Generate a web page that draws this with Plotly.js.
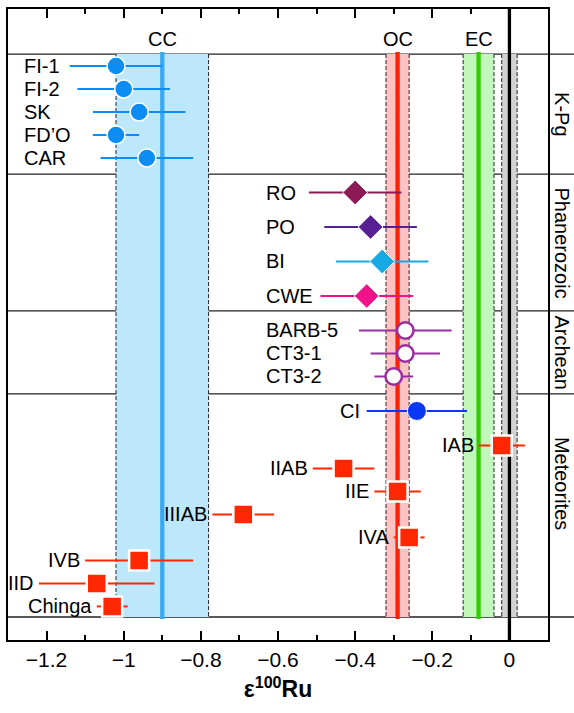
<!DOCTYPE html>
<html>
<head>
<meta charset="utf-8">
<script src="https://cdn.plot.ly/plotly-3.0.1.min.js"></script>
<style>html,body{margin:0;padding:0;background:#fff;}#chart{width:574px;height:713px;}</style>
</head>
<body>
<div id="chart"></div>
<script>
// ---------- data ----------
const kpgNames = ['FI-1', 'FI-2', 'SK', 'FD\u2019O', 'CAR'];
const kpgVals  = [-1.02, -1.00, -0.96, -1.02, -0.94];
const kpgErr   = [0.12, 0.12, 0.12, 0.06, 0.12];
const kpgRows  = [1, 2, 3, 4, 5];

const phanNames  = ['RO', 'PO', 'BI', 'CWE'];
const phanVals   = [-0.40, -0.36, -0.33, -0.37];
const phanErr    = [0.12, 0.12, 0.12, 0.12];
const phanRows   = [6.5, 8, 9.5, 11];
const phanColors = ['#8C1A57', '#561F93', '#16A9E4', '#EE138A'];

const archNames = ['BARB-5', 'CT3-1', 'CT3-2'];
const archVals  = [-0.27, -0.27, -0.30];
const archErr   = [0.12, 0.09, 0.05];
const archRows  = [12.5, 13.5, 14.5];

const ciNames = ['CI'];
const ciVals  = [-0.24];
const ciErr   = [0.13];
const ciRows  = [16];

const ironNames = ['IAB', 'IIAB', 'IIE', 'IIIAB', 'IVA', 'IVB', 'IID', 'Chinga'];
const ironVals  = [-0.02, -0.43, -0.29, -0.69, -0.26, -0.96, -1.07, -1.03];
const ironErr   = [0.06, 0.08, 0.06, 0.08, 0.04, 0.14, 0.15, 0.04];
const ironRows  = [17.5, 18.5, 19.5, 20.5, 21.5, 22.5, 23.5, 24.5];

const resNames = ['CC', 'OC', 'EC'];
const resVals  = [-0.90, -0.29, -0.08];
const resLow   = [-1.02, -0.32, -0.12];
const resHigh  = [-0.78, -0.26, -0.04];
const earthVal = 0, earthLow = -0.02, earthHigh = 0.02;

const groupNames  = ['K-Pg', 'Phanerozoic', 'Archean', 'Meteorites'];
const groupBounds = [0.48, 5.7, 11.65, 15.26, 24.96];

const tickVals = [-1.2, -1, -0.8, -0.6, -0.4, -0.2, 0];
const tickText = ['\u22121.2', '\u22121', '\u22120.8', '\u22120.6', '\u22120.4', '\u22120.2', '0'];

// ---------- styles ----------
const FONT = 'Liberation Sans, Arial, Helvetica, sans-serif';
const Y_RANGE = [25.96, -1.48];
const resFill = ['#BDE8FB', '#FFC2C2', '#C2F7BC'];
const resLine = ['#38A9F2', '#FF2200', '#33CC00'];
const kpgColor = '#0B8DF4', ciColor = '#0A38F5', ironColor = '#FF2800', archColor = '#9A2CA0';

const traces = [];
traces.push({
  x: kpgVals, y: kpgRows, type: 'scatter', mode: 'markers', hoverinfo: 'skip',
  error_x: {type: 'data', array: kpgErr, color: kpgColor, thickness: 2, width: 0},
  marker: {symbol: 'circle', size: 18, color: kpgColor, line: {color: '#fff', width: 1.5}}
});
phanVals.forEach((v, i) => traces.push({
  x: [v], y: [phanRows[i]], type: 'scatter', mode: 'markers', hoverinfo: 'skip',
  error_x: {type: 'data', array: [phanErr[i]], color: phanColors[i], thickness: 2, width: 0},
  marker: {symbol: 'diamond', size: 19, color: phanColors[i], line: {color: '#fff', width: 1}}
}));
traces.push({
  x: archVals, y: archRows, type: 'scatter', mode: 'markers', hoverinfo: 'skip',
  error_x: {type: 'data', array: archErr, color: archColor, thickness: 2, width: 0},
  marker: {symbol: 'circle', size: 16.5, color: '#fff', line: {color: archColor, width: 2.5}}
});
traces.push({
  x: ciVals, y: ciRows, type: 'scatter', mode: 'markers', hoverinfo: 'skip',
  error_x: {type: 'data', array: ciErr, color: ciColor, thickness: 2, width: 0},
  marker: {symbol: 'circle', size: 19, color: ciColor, line: {color: '#fff', width: 1}}
});
traces.push({
  x: ironVals, y: ironRows, type: 'scatter', mode: 'markers', hoverinfo: 'skip',
  error_x: {type: 'data', array: ironErr, color: ironColor, thickness: 2, width: 0},
  marker: {symbol: 'square', size: 20, color: ironColor, line: {color: '#fff', width: 2.5}}
});

// ---------- shapes ----------
const shapes = [];
const yTop = groupBounds[0], yBot = groupBounds[groupBounds.length - 1];
const bandsLow = resLow.concat([earthLow]);
const bandsHigh = resHigh.concat([earthHigh]);
const bandsFill = resFill.concat(['#D2D2D2']);
bandsLow.forEach((lo, i) => {
  shapes.push({type: 'rect', xref: 'x', yref: 'y', x0: lo, x1: bandsHigh[i], y0: yTop, y1: yBot,
    fillcolor: bandsFill[i], line: {width: 0}, layer: 'below'});
});
groupBounds.forEach(b => {
  shapes.push({type: 'line', xref: 'paper', yref: 'y', x0: 0, x1: 1.05, y0: b, y1: b,
    line: {color: '#222', width: 1.3}, layer: 'below'});
});
bandsLow.forEach((lo, i) => {
  [lo, bandsHigh[i]].forEach(xv => shapes.push({type: 'line', xref: 'x', yref: 'y', x0: xv, x1: xv,
    y0: yTop, y1: yBot, line: {color: '#222', width: 1, dash: '4px,2px'}, layer: 'below'}));
});
resVals.forEach((v, i) => {
  shapes.push({type: 'line', xref: 'x', yref: 'y', x0: v, x1: v, y0: yTop - 0.09, y1: yBot + 0.09,
    line: {color: resLine[i], width: 4.3}, layer: 'below'});
});
shapes.push({type: 'line', xref: 'x', yref: 'y', x0: earthVal, x1: earthVal, y0: Y_RANGE[1], y1: Y_RANGE[0],
  line: {color: '#000', width: 3.3}, layer: 'below'});

// ---------- annotations ----------
const ann = [];
const lab = (text, x, y, anchor, xshift) => ann.push({text, x, y, xref: 'x', yref: 'y', xanchor: anchor,
  yanchor: 'middle', xshift: xshift || 0, showarrow: false, font: {family: FONT, size: 20, color: '#000'}});
kpgNames.forEach((n, i) => lab(n, -1.256, kpgRows[i], 'left', -3));
phanNames.forEach((n, i) => lab(n, -0.626, phanRows[i], 'left', -4));
archNames.forEach((n, i) => lab(n, -0.626, archRows[i], 'left', -4));
ciNames.forEach((n, i) => lab(n, ciVals[i] - ciErr[i], ciRows[i], 'right', -5));
ironNames.forEach((n, i) => lab(n, ironVals[i] - ironErr[i], ironRows[i], 'right', -3));
resNames.forEach((n, i) => lab(n, resVals[i], -0.19, 'center', 0));
groupNames.forEach((n, i) => {
  const mid = n === 'Meteorites' ? 19.13 : (groupBounds[i] + groupBounds[i + 1]) / 2;
  ann.push({text: n, xref: 'paper', yref: 'y', x: 1.026, y: mid, textangle: 90, showarrow: false,
    xanchor: 'center', yanchor: 'middle', font: {family: FONT, size: 20, color: '#000'}});
});

const layout = {
  width: 574, height: 713,
  margin: {l: 8, r: 26, t: 9, b: 73},
  paper_bgcolor: '#fff', plot_bgcolor: '#fff',
  showlegend: false,
  font: {family: FONT, size: 20, color: '#000'},
  xaxis: {
    range: [-1.3, 0.1], showgrid: false, zeroline: false,
    showline: true, linewidth: 2, linecolor: '#000', mirror: 'ticks',
    ticks: 'inside', ticklen: 9, tickwidth: 2, tickcolor: '#000',
    tickmode: 'array', tickvals: tickVals, ticktext: tickText,
    tickfont: {family: FONT, size: 21, color: '#000'},
    minor: {tickmode: 'linear', tick0: 0, dtick: 0.1, ticks: 'inside', ticklen: 5, tickwidth: 2, tickcolor: '#000', showgrid: false},
    title: {text: '<b>\u03b5<sup>100</sup>Ru</b>', font: {family: FONT, size: 23, color: '#000'}, standoff: 11}
  },
  yaxis: {
    range: Y_RANGE, showgrid: false, zeroline: false, showticklabels: false, ticks: '',
    showline: true, linewidth: 2, linecolor: '#000', mirror: true
  },
  shapes, annotations: ann
};
Plotly.newPlot('chart', traces, layout, {displayModeBar: false, staticPlot: true});
</script>
</body>
</html>
